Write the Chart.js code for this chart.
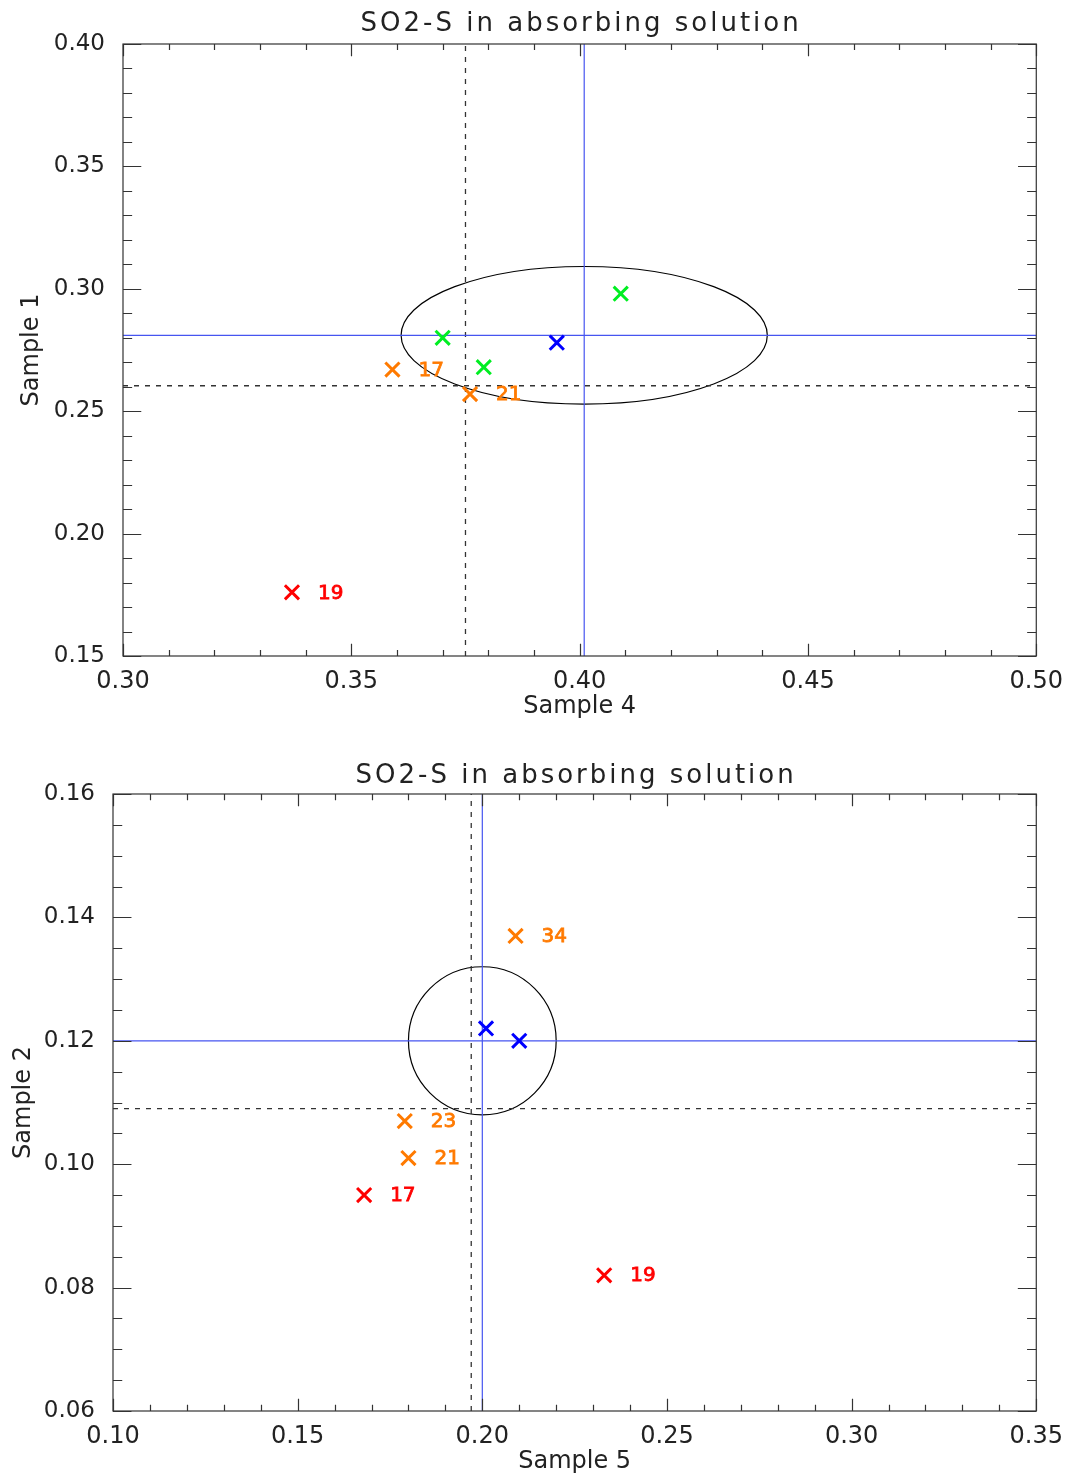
<!DOCTYPE html>
<html>
<head>
<meta charset="utf-8">
<script src="https://cdn.jsdelivr.net/npm/chart.js@4.4.1/dist/chart.umd.min.js"></script>
<style>
  html, body { margin: 0; padding: 0; background: #fff; }
  canvas { display: block; }
</style>
</head>
<body>
<canvas id="upper" width="1066" height="730"></canvas>
<canvas id="lower" width="1066" height="746"></canvas>
<script>
const TITLE = 'SO2-S in absorbing solution';

// ---- Upper panel: Sample 4 (x) against Sample 1 (y) ----
const upRedX = [0.337], upRedY = [0.176], upRedLabels = ['19'];
const upOrangeX = [0.359, 0.376], upOrangeY = [0.267, 0.257], upOrangeLabels = ['17', '21'];
const upGreenX = [0.370, 0.379, 0.409], upGreenY = [0.280, 0.268, 0.298];
const upBlueX = [0.395], upBlueY = [0.278];
const upMean = [0.401, 0.281];       // solid blue cross-hair
const upMedian = [0.375, 0.2604];    // dashed cross-hair
const upSpread = [0.0401, 0.0281];   // half-axes of the ellipse around the mean
const upXRange = [0.30, 0.50], upYRange = [0.15, 0.40];
const upXSteps = [0.05, 0.01], upYSteps = [0.05, 0.01];   // [major, minor]

// ---- Lower panel: Sample 5 (x) against Sample 2 (y) ----
const loRedX = [0.168, 0.233], loRedY = [0.095, 0.082], loRedLabels = ['17', '19'];
const loOrangeX = [0.209, 0.179, 0.180], loOrangeY = [0.137, 0.107, 0.101], loOrangeLabels = ['34', '23', '21'];
const loBlueX = [0.201, 0.210], loBlueY = [0.122, 0.120];
const loMean = [0.200, 0.120];
const loMedian = [0.197, 0.109];
const loSpread = [0.020, 0.012];
const loXRange = [0.10, 0.35], loYRange = [0.06, 0.16];
const loXSteps = [0.05, 0.01], loYSteps = [0.02, 0.005];

const FONT = 'DejaVu Sans';
const INK = '#222';
const RED = '#ff0000', ORANGE = '#ff7a00', GREEN = '#00ee22', BLUE = '#0000ff';
const MEAN_LINE = 'rgb(70,85,240)';

Chart.defaults.font.family = FONT;

function pts(xs, ys) { return xs.map((x, i) => ({ x: x, y: ys[i] })); }

function markers(xs, ys, color, labels) {
  return {
    type: 'scatter',
    data: pts(xs, ys),
    pointStyle: 'crossRot',
    pointRadius: 10,
    pointHoverRadius: 10,
    pointBorderWidth: 3,
    borderColor: color,
    backgroundColor: color,
    pointLabels: labels || null,
    order: 0
  };
}

function vline(x, yr, color, dash) {
  return {
    type: 'line',
    data: [{ x: x, y: yr[0] }, { x: x, y: yr[1] }],
    borderColor: color, borderWidth: dash ? 1.3 : 1.2, borderDash: dash || [],
    pointRadius: 0, fill: false, order: 5
  };
}
function hline(y, xr, color, dash) {
  return {
    type: 'line',
    data: [{ x: xr[0], y: y }, { x: xr[1], y: y }],
    borderColor: color, borderWidth: dash ? 1.3 : 1.2, borderDash: dash || [],
    pointRadius: 0, fill: false, order: 5
  };
}

// Ellipse around the mean, placed through the chart's own scales
const ellipsePlugin = {
  id: 'spreadEllipse',
  beforeDatasetsDraw(chart) {
    const e = chart.options.plugins.spreadEllipse;
    const sx = chart.scales.x, sy = chart.scales.y;
    const cx = sx.getPixelForValue(e.center[0]), cy = sy.getPixelForValue(e.center[1]);
    const rx = Math.abs(sx.getPixelForValue(e.center[0] + e.half[0]) - cx);
    const ry = Math.abs(sy.getPixelForValue(e.center[1] + e.half[1]) - cy);
    const ctx = chart.ctx;
    ctx.save();
    ctx.beginPath();
    ctx.ellipse(cx, cy, rx, ry, 0, 0, Math.PI * 2);
    ctx.strokeStyle = '#000';
    ctx.lineWidth = 1.2;
    ctx.stroke();
    ctx.restore();
  }
};

// Numbers written beside selected markers
const pointLabelPlugin = {
  id: 'pointLabels',
  afterDatasetsDraw(chart) {
    const ctx = chart.ctx;
    ctx.save();
    ctx.font = '20px "' + FONT + '"';
    ctx.textAlign = 'left';
    ctx.textBaseline = 'middle';
    ctx.lineWidth = 0.8;
    chart.data.datasets.forEach((ds, i) => {
      if (!ds.pointLabels) return;
      const meta = chart.getDatasetMeta(i);
      ctx.fillStyle = ds.borderColor;
      ctx.strokeStyle = ds.borderColor;
      meta.data.forEach((el, j) => {
        const t = ds.pointLabels[j];
        if (!t) return;
        ctx.fillText(t, el.x + 26, el.y + 1);
        ctx.strokeText(t, el.x + 26, el.y + 1);
      });
    });
    ctx.restore();
  }
};

// Box frame with inward major and minor ticks on all four sides, plus the title
const framePlugin = {
  id: 'frameTicks',
  afterDraw(chart) {
    const o = chart.options.plugins.frameTicks;
    const { left, right, top, bottom } = chart.chartArea;
    const sx = chart.scales.x, sy = chart.scales.y;
    const ctx = chart.ctx;
    ctx.save();
    ctx.strokeStyle = '#333';
    ctx.lineWidth = 1.2;
    ctx.strokeRect(left, top, right - left, bottom - top);

    const xMajorLen = 0.02 * (bottom - top), yMajorLen = 0.02 * (right - left);
    ctx.beginPath();
    const nx = Math.round((sx.max - sx.min) / o.xSteps[1]);
    const xEvery = Math.round(o.xSteps[0] / o.xSteps[1]);
    for (let i = 0; i <= nx; i++) {
      const px = Math.round(sx.getPixelForValue(sx.min + i * o.xSteps[1])) + 0.5;
      const len = (i % xEvery === 0) ? xMajorLen : xMajorLen / 2;
      ctx.moveTo(px, bottom); ctx.lineTo(px, bottom - len);
      ctx.moveTo(px, top); ctx.lineTo(px, top + len);
    }
    const ny = Math.round((sy.max - sy.min) / o.ySteps[1]);
    const yEvery = Math.round(o.ySteps[0] / o.ySteps[1]);
    for (let i = 0; i <= ny; i++) {
      const py = Math.round(sy.getPixelForValue(sy.min + i * o.ySteps[1])) + 0.5;
      const len = (i % yEvery === 0) ? yMajorLen : yMajorLen / 2;
      ctx.moveTo(left, py); ctx.lineTo(left + len, py);
      ctx.moveTo(right, py); ctx.lineTo(right - len, py);
    }
    ctx.stroke();

    ctx.fillStyle = INK;
    ctx.font = '26px "' + FONT + '"';
    ctx.letterSpacing = '3px';
    ctx.textAlign = 'center';
    ctx.textBaseline = 'alphabetic';
    ctx.fillText(o.title, (left + right) / 2 + 1.5, o.titleBaseline);
    ctx.restore();
  }
};

function makeChart(id, p) {
  return new Chart(document.getElementById(id), {
    type: 'scatter',
    data: { datasets: p.datasets },
    plugins: [ellipsePlugin, pointLabelPlugin, framePlugin],
    options: {
      responsive: false,
      animation: false,
      events: [],
      layout: { padding: { top: p.padTop, right: 29, left: 0, bottom: 0 } },
      plugins: {
        legend: { display: false },
        tooltip: { enabled: false },
        title: { display: false },
        spreadEllipse: { center: p.mean, half: p.spread },
        frameTicks: { xSteps: p.xSteps, ySteps: p.ySteps, title: TITLE, titleBaseline: p.titleBaseline }
      },
      scales: {
        x: {
          type: 'linear', position: 'bottom',
          min: p.xRange[0], max: p.xRange[1],
          grid: { display: false }, border: { display: false },
          ticks: {
            stepSize: p.xSteps[0], padding: 3, color: INK, maxRotation: 0, autoSkip: false,
            font: { family: FONT, size: 24 },
            callback: v => Number(v).toFixed(2)
          },
          title: { display: true, text: p.xTitle, color: INK, font: { family: FONT, size: 24 },
                   padding: { top: 0, bottom: p.xTitlePad } },
          afterFit: s => { s.height = p.xAxisHeight; }
        },
        y: {
          type: 'linear', position: 'left',
          min: p.yRange[0], max: p.yRange[1],
          grid: { display: false }, border: { display: false },
          ticks: {
            stepSize: p.ySteps[0], padding: 10, color: INK, autoSkip: false,
            font: { family: FONT, size: 23 },
            callback: v => Number(v).toFixed(2)
          },
          title: { display: true, text: p.yTitle, color: INK, font: { family: FONT, size: 24 },
                   padding: { top: p.yTitlePad, bottom: 0 } },
          afterFit: s => { s.width = p.yAxisWidth; }
        }
      }
    }
  });
}

makeChart('upper', {
  datasets: [
    markers(upRedX, upRedY, RED, upRedLabels),
    markers(upOrangeX, upOrangeY, ORANGE, upOrangeLabels),
    markers(upGreenX, upGreenY, GREEN),
    markers(upBlueX, upBlueY, BLUE),
    vline(upMean[0], upYRange, MEAN_LINE),
    hline(upMean[1], upXRange, MEAN_LINE),
    vline(upMedian[0], upYRange, '#333', [5, 6]),
    hline(upMedian[1], upXRange, '#333', [5, 6])
  ],
  mean: upMean, spread: upSpread,
  xRange: upXRange, yRange: upYRange, xSteps: upXSteps, ySteps: upYSteps,
  xTitle: 'Sample 4', yTitle: 'Sample 1',
  padTop: 44, xAxisHeight: 74, yAxisWidth: 123, xTitlePad: 9, yTitlePad: 17,
  titleBaseline: 31
});

makeChart('lower', {
  datasets: [
    markers(loRedX, loRedY, RED, loRedLabels),
    markers(loOrangeX, loOrangeY, ORANGE, loOrangeLabels),
    markers(loBlueX, loBlueY, BLUE),
    vline(loMean[0], loYRange, MEAN_LINE),
    hline(loMean[1], loXRange, MEAN_LINE),
    vline(loMedian[0], loYRange, '#333', [5, 6]),
    hline(loMedian[1], loXRange, '#333', [5, 6])
  ],
  mean: loMean, spread: loSpread,
  xRange: loXRange, yRange: loYRange, xSteps: loXSteps, ySteps: loYSteps,
  xTitle: 'Sample 5', yTitle: 'Sample 2',
  padTop: 64, xAxisHeight: 65, yAxisWidth: 113, xTitlePad: 0, yTitlePad: 9,
  titleBaseline: 53
});
</script>
</body>
</html>
